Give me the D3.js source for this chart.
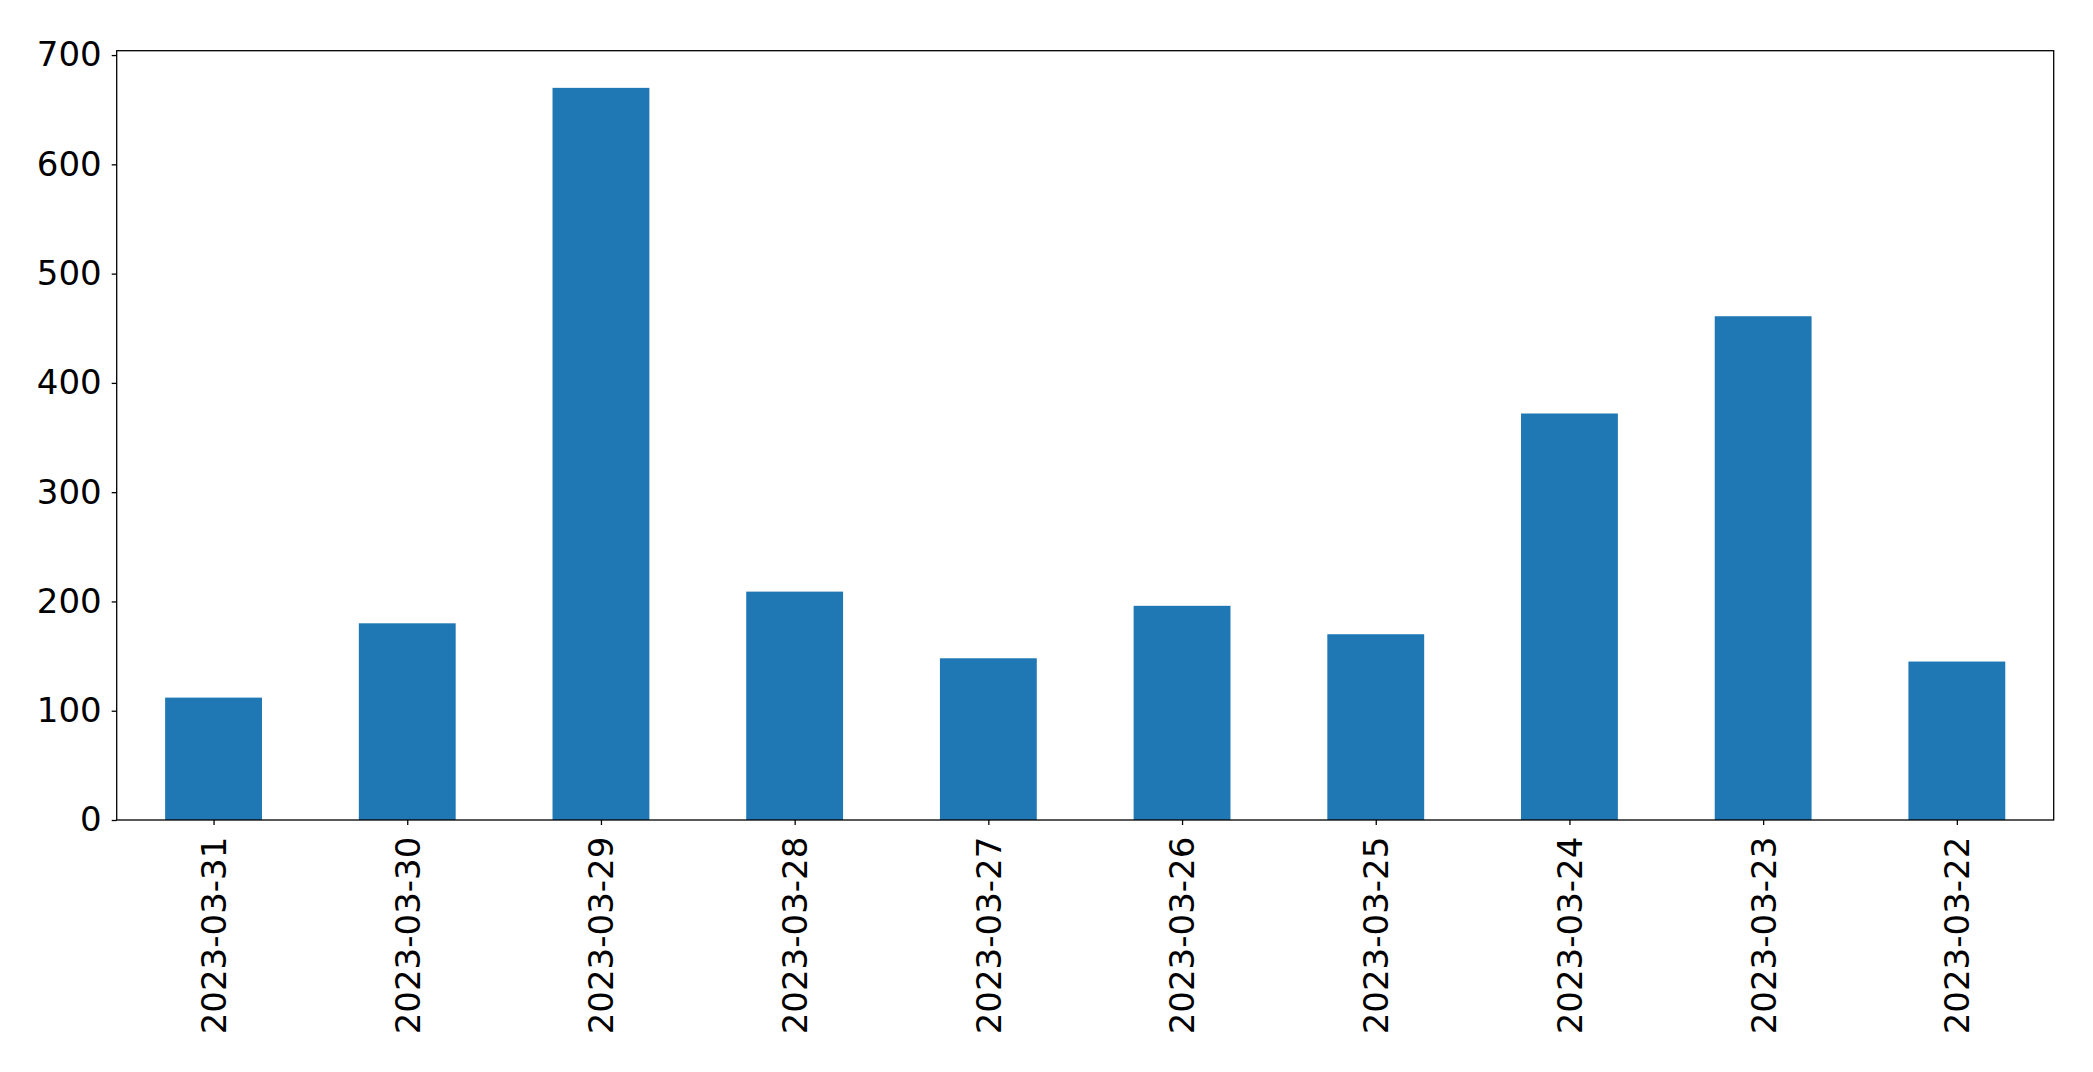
<!DOCTYPE html>
<html><head><meta charset="utf-8">
<script src="https://cdn.jsdelivr.net/npm/d3@7"></script>
<style>body{margin:0;background:#fff}</style></head>
<body><svg id="c" width="2093" height="1072"></svg>
<script>
const categories = ["2023-03-31","2023-03-30","2023-03-29","2023-03-28","2023-03-27","2023-03-26","2023-03-25","2023-03-24","2023-03-23","2023-03-22"];
const values = [112,180,670,209,148,196,170,372,461,145];
const yTicks = [0,100,200,300,400,500,600,700];

const L=116.7,R=2053.7,T=50.7,B=820;
const svg=d3.select("#c");
const x=d3.scaleLinear().domain([-0.5,9.5]).range([L,R]);
const y=d3.scaleLinear().domain([0,704]).range([B,T]);
const font="DejaVu Sans";

svg.selectAll("rect.bar").data(values).enter().append("rect")
  .attr("x",(d,i)=>x(i-0.25)).attr("width",x(0.5)-x(0))
  .attr("y",d=>y(d)).attr("height",d=>B-y(d)).attr("fill","#1f77b4");

const ya=d3.axisLeft(y).tickValues(yTicks).tickSize(5).tickPadding(10).tickFormat(d3.format("d"));
const gy=svg.append("g").attr("transform",`translate(${L},0)`).call(ya);
gy.select(".domain").remove();
gy.selectAll("text").attr("font-family",font).attr("font-size",34).attr("fill","#000");
gy.selectAll("line").attr("stroke","#000").attr("stroke-width",1.3);

const xa=d3.axisBottom(x).tickValues(d3.range(categories.length)).tickSize(5).tickFormat(i=>categories[i]);
const gx=svg.append("g").attr("transform",`translate(0,${B})`).call(xa);
gx.select(".domain").remove();
gx.selectAll("line").attr("stroke","#000").attr("stroke-width",1.3);
gx.selectAll("text").attr("font-family",font).attr("font-size",34).attr("fill","#000")
  .attr("transform","rotate(-90)").attr("text-anchor","end").attr("dy","0.35em")
  .attr("x",-16.7).attr("y",0);

svg.append("rect").attr("x",L).attr("y",T).attr("width",R-L).attr("height",B-T)
  .attr("fill","none").attr("stroke","#000").attr("stroke-width",1.3);
</script></body></html>
